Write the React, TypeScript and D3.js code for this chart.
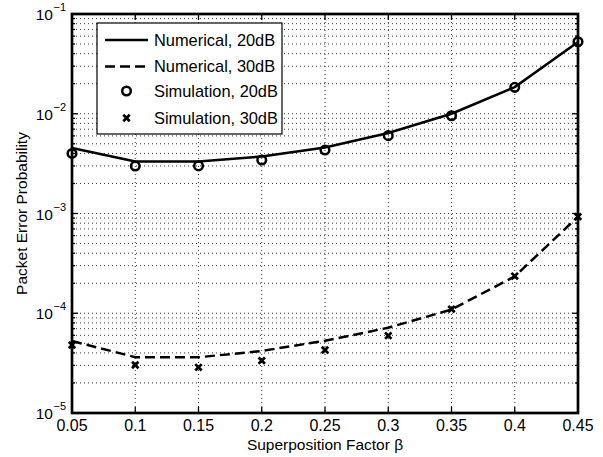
import React from "react";
import * as d3 from "d3";

const betas = [0.05, 0.1, 0.15, 0.2, 0.25, 0.3, 0.35, 0.4, 0.45];
const num20 = [4.54e-3, 3.32e-3, 3.32e-3, 3.73e-3, 4.59e-3, 6.41e-3, 1.0e-2, 1.85e-2, 5.25e-2];
const num30 = [5.27e-5, 3.63e-5, 3.62e-5, 4.19e-5, 5.3e-5, 7.16e-5, 1.09e-4, 2.34e-4, 9.29e-4];
const sim20 = [4.0e-3, 2.99e-3, 3.0e-3, 3.44e-3, 4.33e-3, 6.03e-3, 9.55e-3, 1.84e-2, 5.27e-2];
const sim30 = [4.8e-5, 3.03e-5, 2.87e-5, 3.35e-5, 4.28e-5, 5.96e-5, 1.1e-4, 2.36e-4, 9.29e-4];
const xTickLabels = ["0.05", "0.1", "0.15", "0.2", "0.25", "0.3", "0.35", "0.4", "0.45"];
const yExponents = [-1, -2, -3, -4, -5];
const legendLabels = ["Numerical, 20dB", "Numerical, 30dB", "Simulation, 20dB", "Simulation, 30dB"];

const W = 603, H = 457;
const L = 72, R = 578, T = 14, B = 413;
const FONT = "'Liberation Sans', Arial, Helvetica, sans-serif";

export default function App() {
  const x = d3.scaleLinear().domain([0.05, 0.45]).range([L, R]);
  const y = d3.scaleLog().domain([1e-5, 1e-1]).range([B, T]);
  const line = d3.line<number>().x((_, i) => x(betas[i])).y((d) => y(d));

  const minorVals: number[] = [];
  for (let e = -5; e < -1; e++) {
    for (let m = 2; m <= 9; m++) minorVals.push(m * Math.pow(10, e));
  }
  const majorVals = yExponents.map((e) => Math.pow(10, e));

  const grid = "#222";
  const lw = 2.5;

  const xMark = (cx: number, cy: number, s: number, key: any) => (
    <g key={key} stroke="#000" strokeWidth={2.7} strokeLinecap="butt">
      <line x1={cx - s} y1={cy - s} x2={cx + s} y2={cy + s} />
      <line x1={cx - s} y1={cy + s} x2={cx + s} y2={cy - s} />
    </g>
  );

  const legX = 97, legY = 23, legW = 185, legH = 111;
  const rows = [40, 66.5, 91, 118];

  return (
    <svg width={W} height={H} style={{ position: "absolute", left: 0, top: 0, background: "#fff" }} fontFamily={FONT}>
      <rect x={0} y={0} width={W} height={H} fill="#fff" />
      {/* grid */}
      <g stroke={grid} strokeWidth={0.9} strokeDasharray="1,3" fill="none">
        {minorVals.concat(majorVals.slice(1, 4)).map((v, i) => (
          <line key={"h" + i} x1={L} x2={R} y1={y(v)} y2={y(v)} />
        ))}
        {betas.slice(1, 8).map((b, i) => (
          <line key={"v" + i} x1={x(b)} x2={x(b)} y1={T} y2={B} />
        ))}
      </g>
      {/* ticks */}
      <g stroke="#000" strokeWidth={1.3}>
        {majorVals.map((v, i) => (
          <g key={"mt" + i}>
            <line x1={L} x2={L + 6} y1={y(v)} y2={y(v)} />
            <line x1={R} x2={R - 6} y1={y(v)} y2={y(v)} />
          </g>
        ))}
        {minorVals.map((v, i) => (
          <g key={"mn" + i}>
            <line x1={L} x2={L + 3} y1={y(v)} y2={y(v)} />
            <line x1={R} x2={R - 3} y1={y(v)} y2={y(v)} />
          </g>
        ))}
        {betas.map((b, i) => (
          <g key={"xt" + i}>
            <line x1={x(b)} x2={x(b)} y1={B} y2={B - 6} />
            <line x1={x(b)} x2={x(b)} y1={T} y2={T + 6} />
          </g>
        ))}
      </g>
      {/* data */}
      <path d={line(num20) || ""} fill="none" stroke="#000" strokeWidth={lw} />
      <path d={line(num30) || ""} fill="none" stroke="#000" strokeWidth={lw} strokeDasharray="10,5" />
      {sim20.map((v, i) => (
        <circle key={"c" + i} cx={x(betas[i])} cy={y(v)} r={4.3} fill="none" stroke="#000" strokeWidth={2.5} />
      ))}
      {sim30.map((v, i) => xMark(x(betas[i]), y(v), 3.2, "x" + i))}
      {/* axes box */}
      <rect x={L} y={T} width={R - L} height={B - T} fill="none" stroke="#000" strokeWidth={2.7} />
      {/* legend */}
      <rect x={legX} y={legY} width={legW} height={legH} fill="#fff" stroke="#000" strokeWidth={1.2} />
      <line x1={105} x2={148} y1={rows[0]} y2={rows[0]} stroke="#000" strokeWidth={lw} />
      <line x1={105} x2={148} y1={rows[1]} y2={rows[1]} stroke="#000" strokeWidth={lw} strokeDasharray="10,5" />
      <circle cx={126.5} cy={rows[2]} r={4.3} fill="none" stroke="#000" strokeWidth={2.5} />
      {xMark(126.5, rows[3], 3.2, "lx")}
      {legendLabels.map((t, i) => (
        <text key={"lt" + i} x={154} y={rows[i]} dy="0.36em" fontSize={16.4} fill="#000">{t}</text>
      ))}
      {/* x tick labels */}
      {xTickLabels.map((t, i) => (
        <text key={"xl" + i} x={x(betas[i])} y={431} textAnchor="middle" fontSize={16} fill="#000">{t}</text>
      ))}
      {/* y tick labels */}
      {yExponents.map((e, i) => (
        <g key={"yl" + i}>
          <text x={53} y={y(Math.pow(10, e)) + 6} textAnchor="end" fontSize={15.5} fill="#000">10</text>
          <text x={53.5} y={y(Math.pow(10, e)) - 3} textAnchor="start" fontSize={11} fill="#000">{"\u2212" + Math.abs(e)}</text>
        </g>
      ))}
      {/* axis titles */}
      <text x={325} y={450} textAnchor="middle" fontSize={15.5} fill="#000">Superposition Factor β</text>
      <text transform={`translate(27,${(T + B) / 2}) rotate(-90)`} textAnchor="middle" fontSize={15.5} fill="#000">Packet Error Probability</text>
    </svg>
  );
}
